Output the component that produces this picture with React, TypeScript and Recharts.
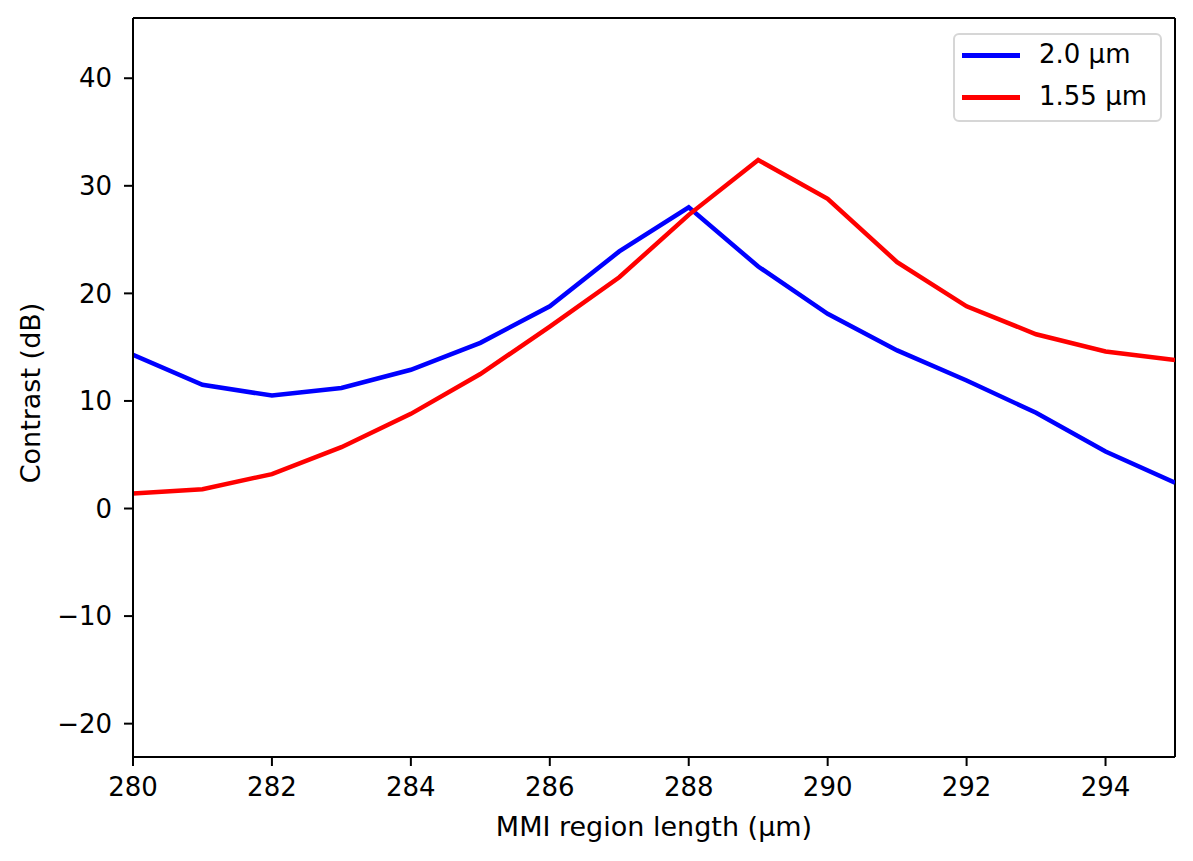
import React from 'react';
import { LineChart, Line, XAxis, YAxis, ReferenceLine } from 'recharts';

const lengths = [280, 281, 282, 283, 284, 285, 286, 287, 288, 289, 290, 291, 292, 293, 294, 295];
const contrast2um = [14.3, 11.5, 10.5, 11.2, 12.9, 15.4, 18.8, 23.9, 28.0, 22.5, 18.1, 14.7, 11.9, 8.9, 5.3, 2.4];
const contrast155um = [1.4, 1.8, 3.2, 5.7, 8.8, 12.5, 16.9, 21.5, 27.3, 32.4, 28.8, 22.9, 18.8, 16.2, 14.6, 13.8];
const xTicks = [280, 282, 284, 286, 288, 290, 292, 294];
const yTicks = [-20, -10, 0, 10, 20, 30, 40];
const seriesNames = ['2.0 µm', '1.55 µm'];
const seriesColors = ['#0000ff', '#ff0000'];

const data = lengths.map((l, i) => ({ l, a: contrast2um[i], b: contrast155um[i] }));

const FONT = '"DejaVu Sans", sans-serif';
const FS = 26;
const LFS = 27;

const fmt = (v: number) => (v < 0 ? '\u2212' + Math.abs(v) : String(v));

const LegendBox = () => (
  <div
    style={{
      position: 'absolute',
      left: 945,
      top: 25,
      width: 209,
      height: 89,
      boxSizing: 'border-box',
      border: '2px solid #d6d6d6',
      borderRadius: 6,
      background: 'rgba(255,255,255,0.8)',
      fontFamily: FONT,
      fontSize: FS,
      color: '#000',
    }}
  >
    {[0, 1].map((i) => {
      const y = i === 0 ? 22 : 64;
      return (
        <React.Fragment key={i}>
          <div style={{ position: 'absolute', left: 7, top: y - 2 - 2, width: 58, height: 4.5, background: seriesColors[i] }} />
          <div style={{ position: 'absolute', left: 84, top: y - 2 - 17, lineHeight: '32px', whiteSpace: 'nowrap' }}>{seriesNames[i]}</div>
        </React.Fragment>
      );
    })}
  </div>
);

export default function App() {
  return (
    <div style={{ position: 'relative', width: 1185, height: 853, fontFamily: FONT }}>
      <LineChart width={1185} height={853} data={data} margin={{ top: 10, right: 18, left: 0, bottom: 0 }}>
        <XAxis
          dataKey="l"
          type="number"
          domain={[280, 295]}
          ticks={xTicks}
          allowDataOverflow
          height={104}
          tickSize={9}
          tickMargin={12}
          axisLine={{ stroke: '#000', strokeWidth: 2 }}
          tickLine={{ stroke: '#000', strokeWidth: 2 }}
          tick={{ fill: '#000', fontSize: FS, fontFamily: FONT }}
          label={{
            content: (p: any) => {
              const vb = p.viewBox;
              return (
                <text x={vb.x + vb.width / 2} y={vb.y + 79} textAnchor="middle" fontSize={LFS} fontFamily={FONT} fill="#000">
                  MMI region length (µm)
                </text>
              );
            },
          }}
        />
        <YAxis
          type="number"
          domain={[-23.1, 45.6]}
          ticks={yTicks}
          allowDataOverflow
          width={125}
          tickSize={9}
          tickMargin={12}
          tickFormatter={fmt}
          axisLine={{ stroke: '#000', strokeWidth: 2 }}
          tickLine={{ stroke: '#000', strokeWidth: 2 }}
          tick={{ fill: '#000', fontSize: FS, fontFamily: FONT }}
          label={{
            content: () => (
              <text
                x={32}
                y={385}
                transform="rotate(-90 32 385)"
                textAnchor="middle"
                fontSize={LFS}
                fontFamily={FONT}
                fill="#000"
              >
                Contrast (dB)
              </text>
            ),
          }}
        />
        <ReferenceLine y={45.6} stroke="#000" strokeWidth={2} />
        <ReferenceLine x={295} stroke="#000" strokeWidth={2} />
        <Line type="linear" dataKey="a" name={seriesNames[0]} stroke={seriesColors[0]} strokeWidth={4.5} dot={false} isAnimationActive={false} />
        <Line type="linear" dataKey="b" name={seriesNames[1]} stroke={seriesColors[1]} strokeWidth={4.5} dot={false} isAnimationActive={false} />
      </LineChart>
      <LegendBox />
    </div>
  );
}
